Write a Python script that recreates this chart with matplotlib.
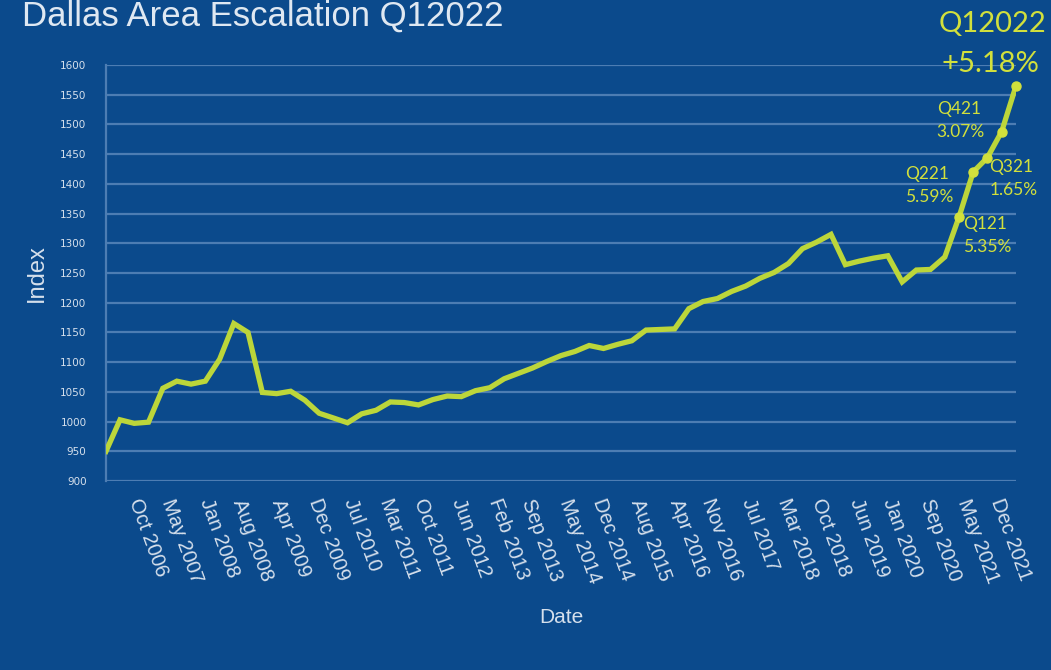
import matplotlib
matplotlib.use('Agg')
import matplotlib.pyplot as plt
import pandas as pd

# quarterly index values, Q1 2006 .. Q1 2022
index_values = [
    950, 1003, 997, 999, 1056, 1068, 1063, 1068, 1105, 1165,
    1150, 1049, 1047, 1051, 1036, 1014, 1006, 998, 1013, 1019,
    1033, 1032, 1028, 1037, 1043, 1042, 1052, 1057, 1072, 1081,
    1090, 1101, 1111, 1118, 1128, 1123, 1130, 1136, 1154, 1155,
    1156, 1190, 1202, 1207, 1219, 1228, 1241, 1251, 1266, 1291,
    1302, 1315, 1264, 1270, 1275, 1279, 1235, 1255, 1256, 1277,
    1345, 1420, 1444, 1488, 1565,
]
dates = pd.date_range('2006-01-01', periods=len(index_values), freq='QS')

tick_labels = ['Oct 2006', 'May 2007', 'Jan 2008', 'Aug 2008', 'Apr 2009',
               'Dec 2009', 'Jul 2010', 'Mar 2011', 'Oct 2011', 'Jun 2012',
               'Feb 2013', 'Sep 2013', 'May 2014', 'Dec 2014', 'Aug 2015',
               'Apr 2016', 'Nov 2016', 'Jul 2017', 'Mar 2018', 'Oct 2018',
               'Jun 2019', 'Jan 2020', 'Sep 2020', 'May 2021', 'Dec 2021']
tick_dates = pd.to_datetime(tick_labels, format='%b %Y')

# highlighted quarters: (position in series, name, change)
callout_idx = [60, 61, 62, 63]
callout_names = ['Q121', 'Q221', 'Q321', 'Q421']
callout_pct = ['5.35%', '5.59%', '1.65%', '3.07%']
# label offsets (pixels) relative to the dot
callout_off = [(4, -12), (-68, -7), (2, -14), (-65, 18)]

BG = '#0b4a8c'
GRID = '#4d7db3'
LINE = '#bcd63a'
NOTE = '#d2e03c'
TXT = '#d6e0ec'

fig = plt.figure(figsize=(10.51, 6.70), dpi=100, facecolor=BG)
W, H = 1051, 670
ax = fig.add_axes([106 / W, 1 - 481 / H, (1016 - 106) / W, (481 - 65) / H])
ax.set_facecolor(BG)

ax.plot(dates, index_values, color=LINE, lw=3.8, solid_joinstyle='miter', zorder=3)

ax.set_xlim(dates[0], dates[-1])
ax.set_ylim(900, 1600)
ax.set_yticks(range(900, 1601, 50))
ax.grid(axis='y', color=GRID, lw=1.6)
ax.set_axisbelow(True)
for s in ['top', 'right', 'bottom']:
    ax.spines[s].set_visible(False)
ax.spines['left'].set_color(GRID)
ax.spines['left'].set_linewidth(1.6)

ax.set_xticks(tick_dates)
ax.set_xticklabels(tick_labels, rotation=-70, ha='center', fontsize=14.5,
                   color=TXT, family='Liberation Sans')
ax.tick_params(axis='x', length=0, pad=11)
ax.tick_params(axis='y', length=0, pad=14, labelsize=7.5, labelcolor=TXT)

ax.set_xlabel('Date', fontsize=15, color=TXT, family='Liberation Sans', labelpad=16)
ax.set_ylabel('Index', fontsize=17, color=TXT, family='Liberation Sans', labelpad=9)

fig.text(22 / W, 1 - 26 / H, 'Dallas Area Escalation Q12022', fontsize=25,
         color='#dfe8f2', family='Liberation Sans', va='baseline', ha='left')

# call-out dots and labels
for i, name, pct, (dx, dy) in zip(callout_idx, callout_names, callout_pct, callout_off):
    ax.plot(dates[i], index_values[i], 'o', color=NOTE, ms=6.5, zorder=4, clip_on=False)
    ax.annotate(name, xy=(dates[i], index_values[i]), xytext=(dx, dy),
                textcoords='offset pixels', fontsize=12.5, color=NOTE,
                family='Lato', va='baseline', ha='left')
    ax.annotate(pct, xy=(dates[i], index_values[i]), xytext=(dx, dy - 23),
                textcoords='offset pixels', fontsize=12.5, color=NOTE,
                family='Lato', va='baseline', ha='left')

last = len(index_values) - 1
ax.plot(dates[last], index_values[last], 'o', color=NOTE, ms=6.5, zorder=4, clip_on=False)
ax.annotate('Q12022', xy=(dates[last], index_values[last]), xytext=(30, 54),
            textcoords='offset pixels', fontsize=21, color=NOTE,
            family='Lato', va='baseline', ha='right', annotation_clip=False)
ax.annotate('+5.18%', xy=(dates[last], index_values[last]), xytext=(23, 14),
            textcoords='offset pixels', fontsize=21, color=NOTE,
            family='Lato', va='baseline', ha='right', annotation_clip=False)

fig.savefig('out.png', dpi=100, facecolor=BG)
